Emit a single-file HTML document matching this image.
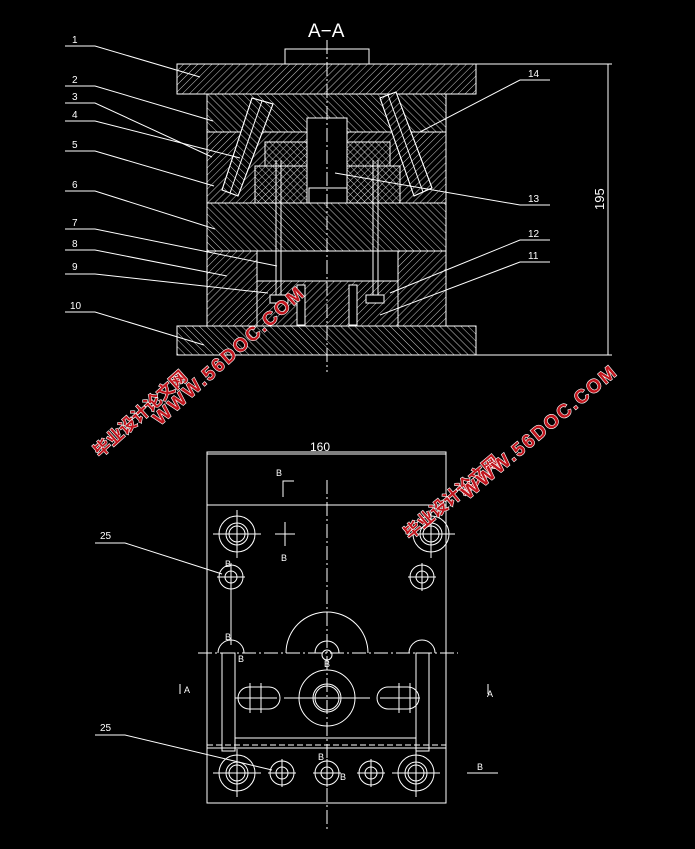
<!DOCTYPE html>
<html><head><meta charset="utf-8"><style>
html,body{margin:0;padding:0;background:#000;}
svg{display:block}
text{font-family:"Liberation Sans","Noto Sans CJK SC",sans-serif;fill:#fff}
.wm{fill:#c0141c;stroke:#fff;stroke-width:1.2;paint-order:stroke;font-weight:bold;font-family:"Liberation Sans","Noto Sans CJK SC",sans-serif}
</style></head><body>
<svg width="695" height="849" viewBox="0 0 695 849" xmlns="http://www.w3.org/2000/svg">
<defs>
<pattern id="h1" width="5" height="5" patternUnits="userSpaceOnUse" patternTransform="rotate(45)"><line x1="0" y1="0" x2="0" y2="5" stroke="#fff" stroke-width="0.8"/></pattern>
<pattern id="h2" width="5" height="5" patternUnits="userSpaceOnUse" patternTransform="rotate(-45)"><line x1="0" y1="0" x2="0" y2="5" stroke="#fff" stroke-width="0.8"/></pattern>
</defs>
<g stroke="#fff" stroke-width="1" fill="none">
<rect x="285" y="49" width="84" height="15"/>
<rect x="177" y="64" width="299" height="30" fill="url(#h1)"/>
<rect x="207" y="94" width="239" height="38" fill="url(#h2)"/>
<rect x="207" y="132" width="239" height="71" fill="url(#h1)"/>
<rect x="265" y="142" width="125" height="24" fill="url(#h2)"/>
<rect x="255" y="166" width="145" height="37" fill="url(#h2)"/>
<rect x="307" y="118" width="40" height="85" fill="#000"/>
<rect x="309" y="188" width="38" height="15" fill="#000"/>
<rect x="207" y="203" width="239" height="48" fill="url(#h2)"/>
<rect x="207" y="251" width="50" height="75" fill="url(#h1)"/>
<rect x="398" y="251" width="48" height="75" fill="url(#h1)"/>
<rect x="257" y="251" width="141" height="30" fill="#000"/>
<rect x="257" y="281" width="141" height="45" fill="url(#h1)"/>
<rect x="177" y="326" width="299" height="29" fill="url(#h2)"/>
<polygon points="252,98 273,104 238,196 222,190" fill="#000"/>
<polygon points="252,98 273,104 238,196 222,190" fill="url(#h2)"/>
<line x1="262" y1="101" x2="230" y2="193"/>
<polygon points="380,98 396,92 432,188 414,196" fill="#000"/>
<polygon points="380,98 396,92 432,188 414,196" fill="url(#h1)"/>
<line x1="388" y1="95" x2="423" y2="192"/>
<line x1="276" y1="160" x2="276" y2="300"/><line x1="281" y1="160" x2="281" y2="300"/>
<line x1="373" y1="160" x2="373" y2="300"/><line x1="378" y1="160" x2="378" y2="300"/>
<rect x="270" y="295" width="18" height="8" fill="#000"/><rect x="366" y="295" width="18" height="8" fill="#000"/>
<rect x="297" y="285" width="8" height="40" fill="#000"/><rect x="349" y="285" width="8" height="40" fill="#000"/>
<line x1="327" y1="40" x2="327" y2="372" stroke-dasharray="14,3,2,3"/>
<line x1="476" y1="64" x2="612" y2="64"/><line x1="476" y1="355" x2="612" y2="355"/>
<line x1="608" y1="64" x2="608" y2="355"/>
<polyline points="65,46 95,46 200,77"/>
<polyline points="65,86 95,86 213,121"/>
<polyline points="65,103 95,103 212,157"/>
<polyline points="65,121 95,121 240,158"/>
<polyline points="65,151 95,151 214,186"/>
<polyline points="65,191 95,191 215,229"/>
<polyline points="65,229 95,229 277,266"/>
<polyline points="65,250 95,250 227,276"/>
<polyline points="65,274 95,274 268,293"/>
<polyline points="65,312 95,312 204,345"/>
<polyline points="550,80 520,80 420,132"/>
<polyline points="550,205 520,205 335,173"/>
<polyline points="550,240 520,240 390,293"/>
<polyline points="550,262 520,262 380,315"/>
<rect x="207" y="452" width="239" height="351"/>
<line x1="207" y1="505" x2="446" y2="505"/>
<line x1="207" y1="454" x2="446" y2="454"/>
<line x1="207" y1="745" x2="446" y2="745" stroke-dasharray="6,3"/>
<line x1="207" y1="748" x2="446" y2="748"/>
<line x1="327" y1="480" x2="327" y2="830" stroke-dasharray="14,3,2,3"/>
<line x1="198" y1="653" x2="458" y2="653" stroke-dasharray="14,3,2,3"/>
<path d="M286,653 A41,41 0 0 1 368,653"/>
<path d="M315,653 A12,12 0 0 1 339,653"/>
<circle cx="327" cy="655" r="5"/>
<circle cx="327" cy="698" r="28"/><circle cx="327" cy="698" r="14"/><circle cx="327" cy="698" r="12"/>
<line x1="284" y1="698" x2="370" y2="698"/>
<g id="c1"><circle cx="237" cy="534" r="18"/><circle cx="237" cy="534" r="11"/><circle cx="237" cy="534" r="8"/><line x1="213" y1="534" x2="261" y2="534"/><line x1="237" y1="510" x2="237" y2="558"/></g>
<use href="#c1" x="194"/>
<use href="#c1" y="239"/><use href="#c1" x="179" y="239"/>
<g id="c2"><circle cx="231" cy="577" r="12"/><circle cx="231" cy="577" r="6"/><line x1="217" y1="577" x2="245" y2="577"/><line x1="231" y1="563" x2="231" y2="591"/></g>
<use href="#c2" x="191"/>
<use href="#c2" x="51" y="196"/><use href="#c2" x="96" y="196"/><use href="#c2" x="140" y="196"/>
<line x1="231" y1="589" x2="231" y2="645"/>
<path d="M218,653 A13,13 0 0 1 244,653"/><path d="M409,653 A13,13 0 0 1 435,653"/>
<rect x="222" y="653" width="13" height="98"/><rect x="416" y="653" width="13" height="98"/>
<line x1="235" y1="738" x2="416" y2="738"/>
<path d="M249,687 h20 a11,11 0 0 1 0,22 h-20 a11,11 0 0 1 0,-22z"/>
<path d="M388,687 h20 a11,11 0 0 1 0,22 h-20 a11,11 0 0 1 0,-22z"/>
<line x1="250" y1="683" x2="250" y2="713"/><line x1="261" y1="683" x2="261" y2="713"/>
<line x1="399" y1="683" x2="399" y2="713"/><line x1="410" y1="683" x2="410" y2="713"/>
<line x1="235" y1="698" x2="277" y2="698"/><line x1="380" y1="698" x2="420" y2="698"/>
<line x1="285" y1="522" x2="285" y2="546"/><line x1="275" y1="534" x2="295" y2="534"/>
<polyline points="283,497 283,481 294,481"/>
<polyline points="180,694 180,684"/>
<polyline points="488,684 488,694"/>
<line x1="467" y1="773" x2="498" y2="773"/>
<polyline points="95,543 125,543 222,574"/>
<polyline points="95,735 125,735 272,770"/>
</g>
<g font-size="10">
<text x="72" y="43">1</text><text x="72" y="83">2</text><text x="72" y="100">3</text><text x="72" y="118">4</text><text x="72" y="148">5</text><text x="72" y="188">6</text><text x="72" y="226">7</text><text x="72" y="247">8</text><text x="72" y="270">9</text><text x="70" y="309">10</text>
<text x="528" y="77">14</text><text x="528" y="202">13</text><text x="528" y="237">12</text><text x="528" y="259">11</text>
<text x="100" y="539">25</text><text x="100" y="731">25</text>
<text x="310" y="451" font-size="12">160</text>
<text x="276" y="476" font-size="9">B</text><text x="281" y="561" font-size="9">B</text>
<text x="225" y="567" font-size="9">B</text><text x="225" y="640" font-size="9">B</text><text x="238" y="662" font-size="9">B</text>
<text x="324" y="667" font-size="9">B</text><text x="318" y="760" font-size="9">B</text><text x="340" y="780" font-size="9">B</text>
<text x="184" y="693" font-size="9">A</text><text x="487" y="697" font-size="9">A</text><text x="477" y="770" font-size="9">B</text>
</g>
<text x="308" y="37" font-size="19">A−A</text>
<text transform="translate(604,210) rotate(-90)" font-size="13">195</text>
<g transform="translate(100,458) rotate(-42)"><text class="wm" font-size="17" x="0" y="0">毕业设计论文网</text></g>
<g transform="translate(160,426) rotate(-42)"><text class="wm" font-size="19" x="0" y="0" letter-spacing="2">WWW.56DOC.COM</text></g>
<g transform="translate(410,540) rotate(-40)"><text class="wm" font-size="17" x="0" y="0">毕业设计论文网</text></g>
<g transform="translate(468,500) rotate(-40)"><text class="wm" font-size="19" x="0" y="0" letter-spacing="2">WWW.56DOC.COM</text></g>
</svg>
</body></html>
